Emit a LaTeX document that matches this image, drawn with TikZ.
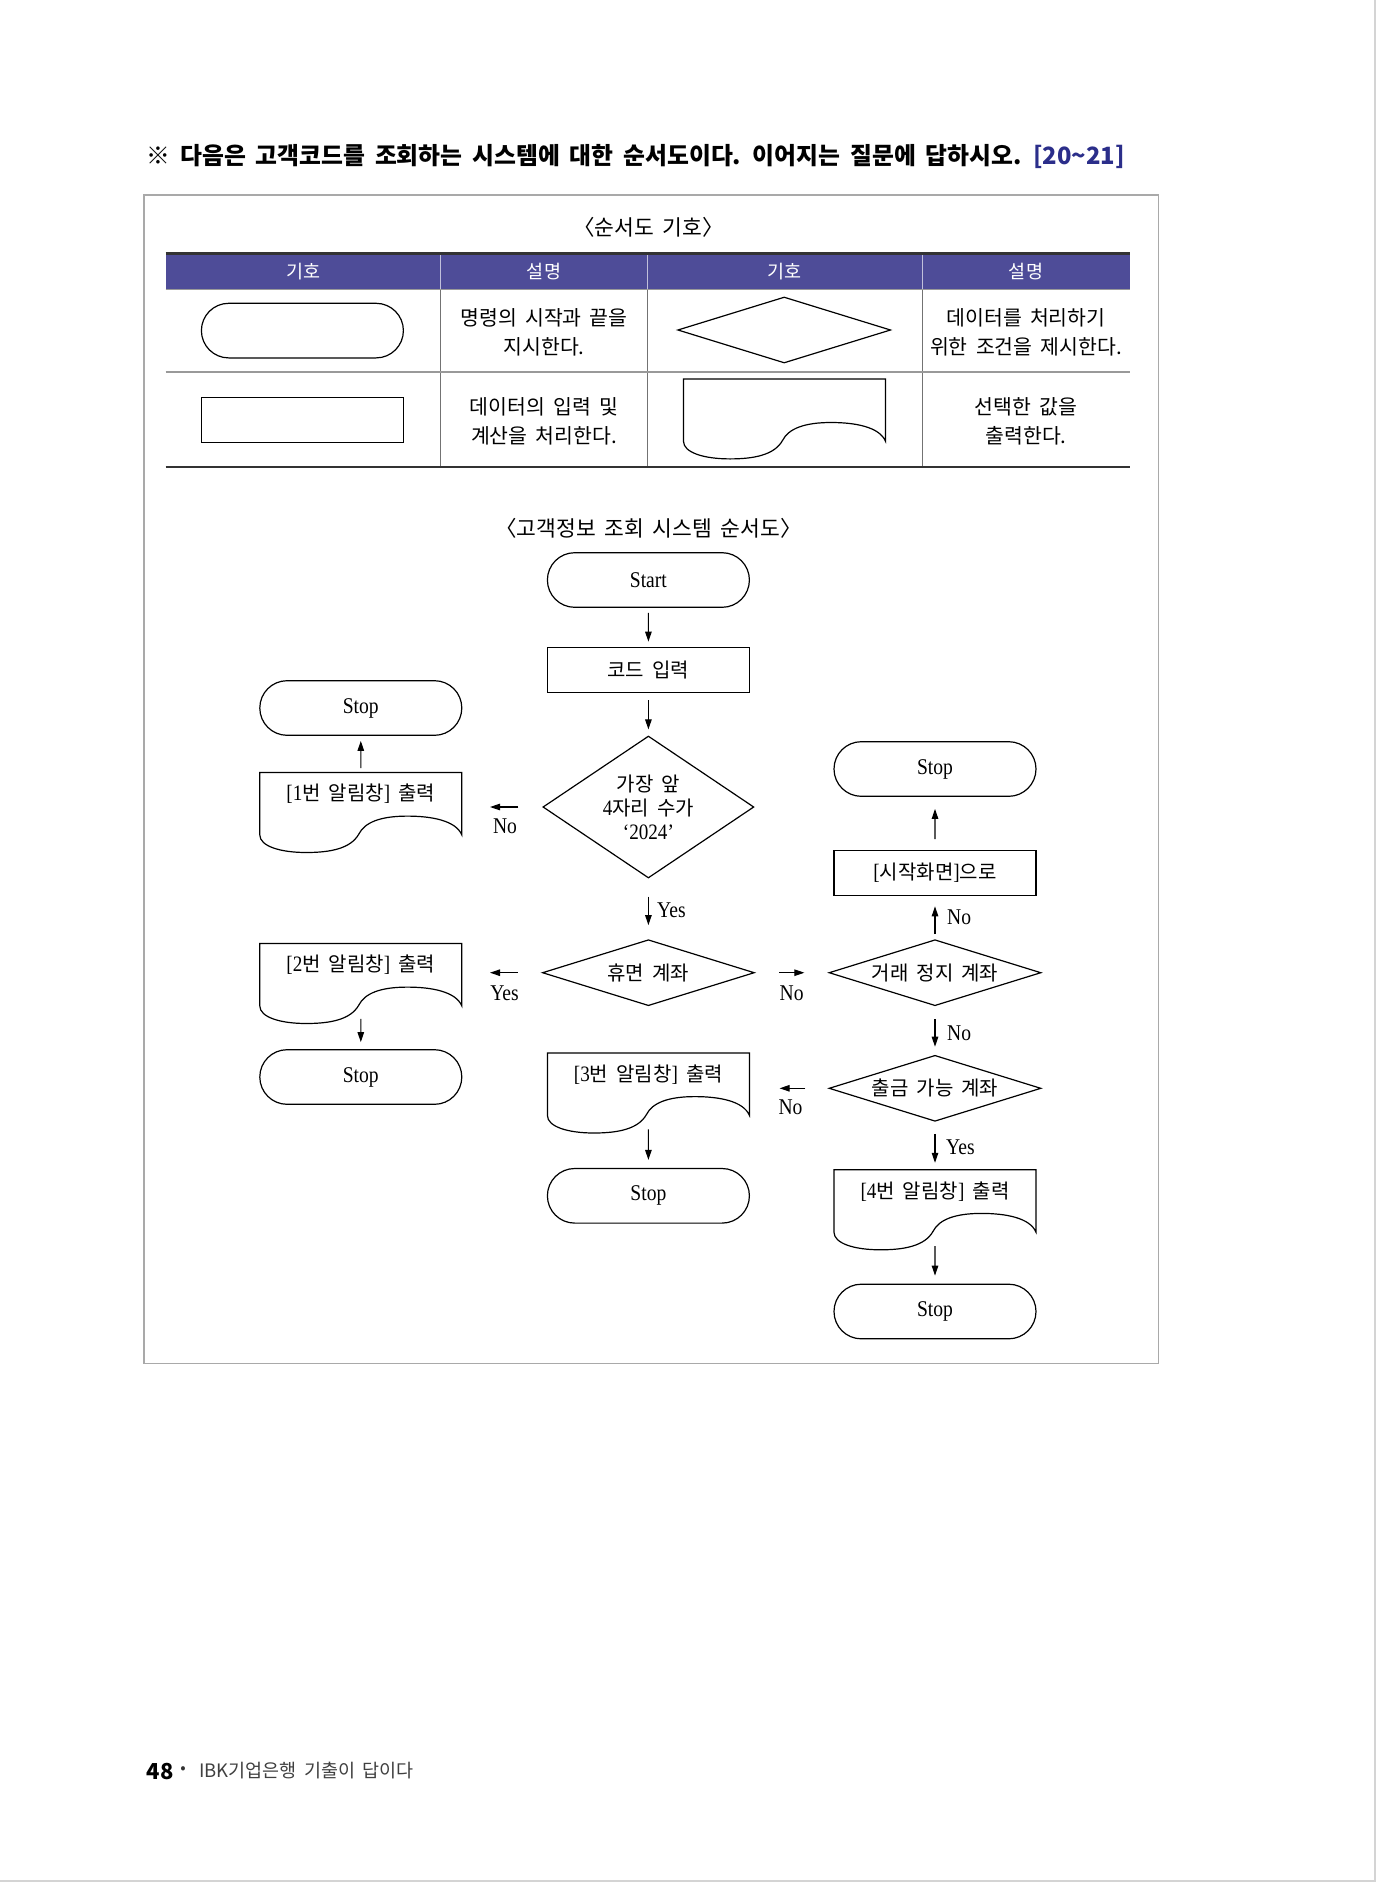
\documentclass[tikz,border=0pt]{standalone}
\usepackage{fontspec}
\setmainfont{Liberation Serif}[FakeStretch=0.87]
\newfontfamily\kr{Noto Sans CJK KR}[WordSpace=1.8]
\usepackage{tikz}
\usetikzlibrary{arrows.meta,positioning,calc,shapes.geometric,shapes.misc}
\definecolor{fcpurple}{HTML}{4E4C98}
\definecolor{fcnavy}{HTML}{2B2E8A}
\definecolor{fcframe}{HTML}{A9A9A9}
\definecolor{fcedge}{HTML}{D4D4D4}
\newcommand{\tm}[1]{{\rmfamily\fontsize{22}{24}\selectfont #1}}
\tikzset{
  fcterm/.style={rounded rectangle, draw=black, line width=1.2pt, minimum width=202pt,
    minimum height=54.6pt, inner sep=0pt, font=\fontsize{22.5}{26}\selectfont},
  fcproc/.style={rectangle, draw=black, line width=1.2pt, minimum width=202pt,
    minimum height=45.5pt, inner sep=0pt, font=\kr\fontsize{20}{24}\selectfont},
  fcdec/.style={diamond, draw=black, line width=1.2pt, minimum width=212pt, minimum height=66pt,
    inner sep=0pt, shape aspect=3, align=center, font=\kr\fontsize{20}{24}\selectfont},
  fcdoc/.style={rectangle, minimum width=202pt, minimum height=80pt, inner sep=0pt,
    text height=16pt, text depth=40pt, font=\kr\fontsize{20}{24}\selectfont},
  fcarrow/.style={-{Triangle[length=10pt,width=6.5pt]}, line width=1.1pt},
  fcnote/.style={font=\fontsize{22.5}{26}\selectfont, inner sep=0pt},
  fctext/.style={font=\kr\fontsize{20.5}{29}\selectfont, align=center, inner sep=0pt},
  fchead/.style={font=\kr\fontsize{18.5}{22}\selectfont, text=white, inner sep=0pt},
  fctitle/.style={font=\kr\fontsize{21.5}{26}\selectfont, inner sep=0pt},
  docshape/.pic={
    \draw[line width=1.2pt] (-101,0) -- (101,0) -- (101,62.4)
      .. controls (95,48) and (70.7,43.6) .. (46.5,43.6)
      .. controls (20.2,43.6) and (4,49.6) .. (-2,61.6)
      .. controls (-10.1,76) and (-30.3,80) .. (-54.5,80)
      .. controls (-80.8,80) and (-101,73.6) .. (-101,62.4) -- cycle;
  }
}

\begin{document}
\begin{tikzpicture}[x=1pt, y=-1pt]
  \useasboundingbox (0,0) rectangle (1376,1882);
  \fill[white] (0,0) rectangle (1376,1882);
  \fill[fcedge] (1374,0) rectangle (1376,1882);
  \fill[fcedge] (0,1880) rectangle (1376,1882);

  % question line
  \node[anchor=west, inner sep=0pt, font=\kr\bfseries\fontsize{23.8}{28}\selectfont] (qline) at (146.5,157)
    {※ 다음은 고객코드를 조회하는 시스템에 대한 순서도이다. 이어지는 질문에 답하시오. \textcolor{fcnavy}{[20\textasciitilde21]}};

  \draw[fcframe, line width=1.3pt] (144.1,195) rectangle (1158.7,1363.5);

  % symbol table
  \node[fctitle] (keytitle) at (648.4,227.5) {〈순서도 기호〉};
  \fill[fcpurple] (165.7,253.3) rectangle (1129.9,289.4);
  \draw[white!65!fcpurple, line width=0.8pt] (440.7,253.3) -- (440.7,289.4);
  \draw[white!65!fcpurple, line width=0.8pt] (647.2,253.3) -- (647.2,289.4);
  \draw[white!65!fcpurple, line width=0.8pt] (922.1,253.3) -- (922.1,289.4);
  \draw[black!55, line width=0.8pt] (440.7,289.4) -- (440.7,467.1);
  \draw[black!55, line width=0.8pt] (647.2,289.4) -- (647.2,467.1);
  \draw[black!55, line width=0.8pt] (922.1,289.4) -- (922.1,467.1);
  \draw[black!40, line width=1.5pt] (165.7,289.4) -- (1129.9,289.4);
  \draw[black!40, line width=1.5pt] (165.7,372.2) -- (1129.9,372.2);
  \draw[black!80, line width=2.4pt] (165.7,253.3) -- (1129.9,253.3);
  \draw[black!80, line width=2.4pt] (165.7,467.1) -- (1129.9,467.1);
  \node[fchead] (hsym1) at (303.2,271.4) {기호};
  \node[fchead] (hdesc1) at (544,271.4) {설명};
  \node[fchead] (hsym2) at (784.7,271.4) {기호};
  \node[fchead] (hdesc2) at (1026,271.4) {설명};

  \node[fcterm] (keyterm) at (302.4,330.6) {};
  \node[fcdec, minimum width=213pt] (keydec) at (784.2,330) {};
  \node[fcproc] (keyproc) at (302.4,420) {};
  \node[fcdoc] (keydoc) at (784.5,419.1) {};
  \pic at (keydoc.north) {docshape};
  \node[fctext] (keytx1) at (544,332) {명령의 시작과 끝을\\지시한다.};
  \node[fctext] (keytx2) at (1026,332) {데이터를 처리하기\\위한 조건을 제시한다.};
  \node[fctext] (keytx3) at (544,421) {데이터의 입력 및\\계산을 처리한다.};
  \node[fctext] (keytx4) at (1026,421) {선택한 값을\\출력한다.};

  % flowchart
  \node[fctitle] (flowtitle) at (648.4,528) {〈고객정보 조회 시스템 순서도〉};

  \node[fcterm] (start) at (648.4,580) {Start};
  \node[fcproc] (code) at (648.4,670) {코드 입력};
  \node[fcdec, minimum width=211pt, minimum height=142pt, shape aspect=1.5] (d1) at (648.4,807)
    {가장 앞\\\tm{4}자리 수가\\\tm{‘2024’}};
  \node[fcterm] (stopL1) at (360.8,708) {Stop};
  \node[fcdoc] (doc1) at (360.8,812.7) {\tm{[1}번 알림창\tm{]} 출력};
  \pic at (doc1.north) {docshape};

  \node[fcdec] (d2) at (648.4,972.7) {휴면 계좌};
  \node[fcdoc] (doc2) at (360.8,983.7) {\tm{[2}번 알림창\tm{]} 출력};
  \pic at (doc2.north) {docshape};
  \node[fcterm] (stopL2) at (360.8,1077) {Stop};

  \node[fcdec] (d3) at (935,972.7) {거래 정지 계좌};
  \node[fcproc] (home) at (935,873) {\tm{[}시작화면\tm{]}으로};
  \node[fcterm] (stopR1) at (935,769) {Stop};

  \node[fcdec] (d4) at (935,1088.3) {출금 가능 계좌};
  \node[fcdoc] (doc3) at (648.4,1093.2) {\tm{[3}번 알림창\tm{]} 출력};
  \pic at (doc3.north) {docshape};
  \node[fcterm] (stopM) at (648.4,1195.8) {Stop};
  \node[fcdoc] (doc4) at (935,1210) {\tm{[4}번 알림창\tm{]} 출력};
  \pic at (doc4.north) {docshape};
  \node[fcterm] (stopR2) at (935,1311.5) {Stop};

  \draw[fcarrow, shorten <=5pt, shorten >=5pt] (start) -- (code);
  \draw[fcarrow, shorten <=7pt, shorten >=6pt] (code) -- (d1);
  \draw[fcarrow, shorten <=24pt, shorten >=28pt] (d1.west) -- (d1.west -| doc1.east);
  \draw[fcarrow, shorten <=4.5pt, shorten >=5pt] (doc1) -- (stopL1);
  \draw[fcarrow, shorten <=18pt, shorten >=14pt] (d1) -- (d2);
  \draw[fcarrow, shorten <=24pt, shorten >=28pt] (d2.west) -- (d2.west -| doc2.east);
  \draw[fcarrow, shorten <=-5pt, shorten >=7pt] (doc2) -- (stopL2);
  \draw[fcarrow, shorten <=24pt, shorten >=24pt] (d2) -- (d3);
  \draw[fcarrow, shorten <=5pt, shorten >=10pt] (d3) -- (home);
  \draw[fcarrow, shorten <=10.5pt, shorten >=12pt] (home) -- (stopR1);
  \draw[fcarrow, shorten <=13pt, shorten >=8pt] (d3) -- (d4);
  \draw[fcarrow, shorten <=23pt, shorten >=30pt] (d4.west) -- (d4.west -| doc3.east);
  \draw[fcarrow, shorten <=-4pt, shorten >=8pt] (doc3) -- (stopM);
  \draw[fcarrow, shorten <=12pt, shorten >=7pt] (d4) -- (doc4);
  \draw[fcarrow, shorten <=-4pt, shorten >=8pt] (doc4) -- (stopR2);

  \node[fcnote] (lbno1) at (505,826.7) {No};
  \node[fcnote, anchor=west] (lbyes1) at (657,910) {Yes};
  \node[fcnote] (lbyes2) at (504.5,993) {Yes};
  \node[fcnote] (lbno2) at (791.7,993.3) {No};
  \node[fcnote, anchor=west] (lbno3) at (947,917) {No};
  \node[fcnote, anchor=west] (lbno4) at (947,1033) {No};
  \node[fcnote] (lbno5) at (790.5,1107.7) {No};
  \node[fcnote, anchor=west] (lbyes3) at (946,1147.3) {Yes};

  % page footer
  \node[anchor=west, inner sep=0pt, font=\kr\bfseries\fontsize{22}{26}\selectfont] (pgno) at (146.5,1771) {48};
  \node[inner sep=0pt, font=\kr\fontsize{16}{20}\selectfont, text=black!80] (pgdot) at (183,1770) {•};
  \node[anchor=west, inner sep=0pt, font=\kr\fontsize{18.5}{22}\selectfont, text=black!75] (pgtitle) at (199,1771)
    {IBK기업은행 기출이 답이다};
\end{tikzpicture}
\end{document}
